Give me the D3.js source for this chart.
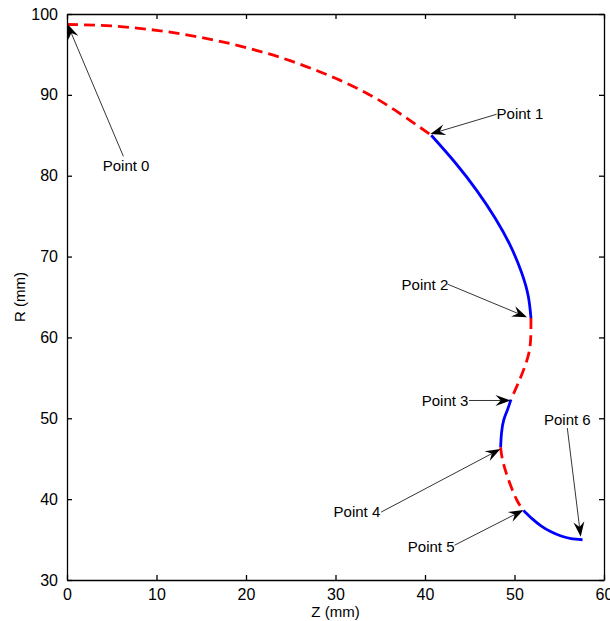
<!DOCTYPE html>
<html>
<head>
<meta charset="utf-8">
<script src="https://cdn.jsdelivr.net/npm/d3@7"></script>
<style>
  body { margin: 0; background: #fff; }
  text { font-family: "Liberation Sans", Arial, Helvetica, sans-serif; fill: #000; }
</style>
</head>
<body>
<script>
// curve pieces (Z in mm, R in mm)
let seg01Z = [0, 5, 10, 15, 20, 25, 30, 35, 40.7]
let seg01R = [98.7, 98.52, 97.98, 97.1, 95.85, 94.2, 92.05, 89.25, 85.0]
let seg12Z = [40.7, 43.43, 45.79, 47.83, 49.51, 50.79, 51.54, 51.84]
let seg12R = [85.0, 81.54, 78.16, 74.78, 71.41, 68.03, 65.1, 62.4]
let seg23Z = [51.84, 51.8, 51.5, 50.7, 49.6]
let seg23R = [62.4, 59.7, 57.6, 55.1, 52.3]
let seg34Z = [49.6, 49.2, 48.8, 48.55, 48.45]
let seg34R = [52.3, 51.0, 49.8, 48.2, 46.4]
let seg45Z = [48.45, 48.6, 49.0, 49.6, 50.3, 51.0]
let seg45R = [46.4, 45.2, 43.5, 41.6, 39.8, 38.6]
let seg56Z = [51.0, 51.96, 52.96, 54.08, 55.2, 56.31, 57.6]
let seg56R = [38.6, 37.59, 36.7, 35.96, 35.44, 35.12, 34.98]

// annotations: label, arrow tip, arrow tail, text spot (data units)
let labels = ["Point 0", "Point 1", "Point 2", "Point 3", "Point 4", "Point 5", "Point 6"]
let tipZ  = [0.05, 40.6, 51.4, 49.55, 48.43, 51.0, 57.4]
let tipR  = [98.75, 85.15, 62.5, 52.2, 46.2, 38.65, 35.35]
let tailZ = [6.3, 48.0, 42.5, 44.9, 35.1, 43.3, 55.9]
let tailR = [82.4, 87.6, 66.6, 52.2, 38.4, 34.3, 48.8]
let textZ = [6.6, 48.0, 42.6, 44.85, 35.0, 43.3, 55.9]
let textR = [81.2, 87.7, 66.55, 52.15, 38.5, 34.1, 49.8]
let textAnchor = ["middle", "start", "end", "end", "end", "end", "middle"]

let xTicks = [0, 10, 20, 30, 40, 50, 60]
let yTicks = [30, 40, 50, 60, 70, 80, 90, 100]

let width = 610, height = 621
let margin = {top: 14, right: 6, bottom: 41, left: 67}

let x = d3.scaleLinear().domain([0, 60]).range([margin.left, width - margin.right])
let y = d3.scaleLinear().domain([30, 100]).range([height - margin.bottom, margin.top])

let svg = d3.select("body").append("svg")
  .attr("width", width)
  .attr("height", height)

// curves
let pieces = [
  {z: seg01Z, r: seg01R, color: "#ff0000", dash: "11,6"},
  {z: seg12Z, r: seg12R, color: "#0000ff", dash: null},
  {z: seg23Z, r: seg23R, color: "#ff0000", dash: "11,6"},
  {z: seg34Z, r: seg34R, color: "#0000ff", dash: null},
  {z: seg45Z, r: seg45R, color: "#ff0000", dash: "11,6"},
  {z: seg56Z, r: seg56R, color: "#0000ff", dash: null}
]

let line = d3.line()
  .x(d => x(d[0]))
  .y(d => y(d[1]))
  .curve(d3.curveNatural)

svg.selectAll("path.curve")
  .data(pieces)
  .enter()
  .append("path")
  .attr("class", "curve")
  .attr("d", p => line(p.z.map((z, i) => [z, p.r[i]])))
  .attr("fill", "none")
  .attr("stroke", p => p.color)
  .attr("stroke-width", 2.8)
  .attr("stroke-dasharray", p => p.dash)

// frame + inward ticks on all four sides
let tickLen = 5
svg.append("g").attr("transform", "translate(0," + y(30) + ")")
  .call(d3.axisBottom(x).tickValues(xTicks).tickSizeInner(-tickLen).tickSizeOuter(0).tickPadding(9))
svg.append("g").attr("transform", "translate(0," + y(100) + ")")
  .call(d3.axisTop(x).tickValues(xTicks).tickSizeInner(-tickLen).tickSizeOuter(0).tickFormat(""))
svg.append("g").attr("transform", "translate(" + x(0) + ",0)")
  .call(d3.axisLeft(y).tickValues(yTicks).tickSizeInner(-tickLen).tickSizeOuter(0).tickPadding(9))
svg.append("g").attr("transform", "translate(" + x(60) + ",0)")
  .call(d3.axisRight(y).tickValues(yTicks).tickSizeInner(-tickLen).tickSizeOuter(0).tickFormat(""))

svg.selectAll(".domain, .tick line").attr("stroke", "#000").attr("stroke-width", 1.3)
svg.selectAll(".tick text").style("font-size", "16px").attr("fill", "#000")

// axis titles
svg.append("text")
  .attr("x", (x(0) + x(60)) / 2)
  .attr("y", 617)
  .style("text-anchor", "middle")
  .style("font-size", "15px")
  .text("Z (mm)")

svg.append("text")
  .attr("transform", "translate(25," + y(65) + ") rotate(-90)")
  .style("text-anchor", "middle")
  .style("font-size", "15px")
  .text("R (mm)")

// text arrows
let ann = svg.append("g").attr("class", "annotations")
labels.forEach((lab, i) => {
  let x1 = x(tailZ[i]), y1 = y(tailR[i])
  let x2 = x(tipZ[i]), y2 = y(tipR[i])
  let a = Math.atan2(y2 - y1, x2 - x1)
  let L = 15, W = 11
  ann.append("line")
    .attr("x1", x1).attr("y1", y1)
    .attr("x2", x2 - Math.cos(a) * 8)
    .attr("y2", y2 - Math.sin(a) * 8)
    .attr("stroke", "#000")
    .attr("stroke-width", 0.8)
  ann.append("path")
    .attr("d", "M0,0 L" + (-L) + "," + (-W / 2) + " L" + (-0.65 * L) + ",0 L" + (-L) + "," + (W / 2) + " Z")
    .attr("transform", "translate(" + x2 + "," + y2 + ") rotate(" + (a * 180 / Math.PI) + ")")
    .attr("fill", "#000")
  ann.append("text")
    .attr("x", x(textZ[i]))
    .attr("y", y(textR[i]))
    .attr("dy", "0.35em")
    .style("text-anchor", textAnchor[i])
    .style("font-size", "15px")
    .text(lab)
})
</script>
</body>
</html>
